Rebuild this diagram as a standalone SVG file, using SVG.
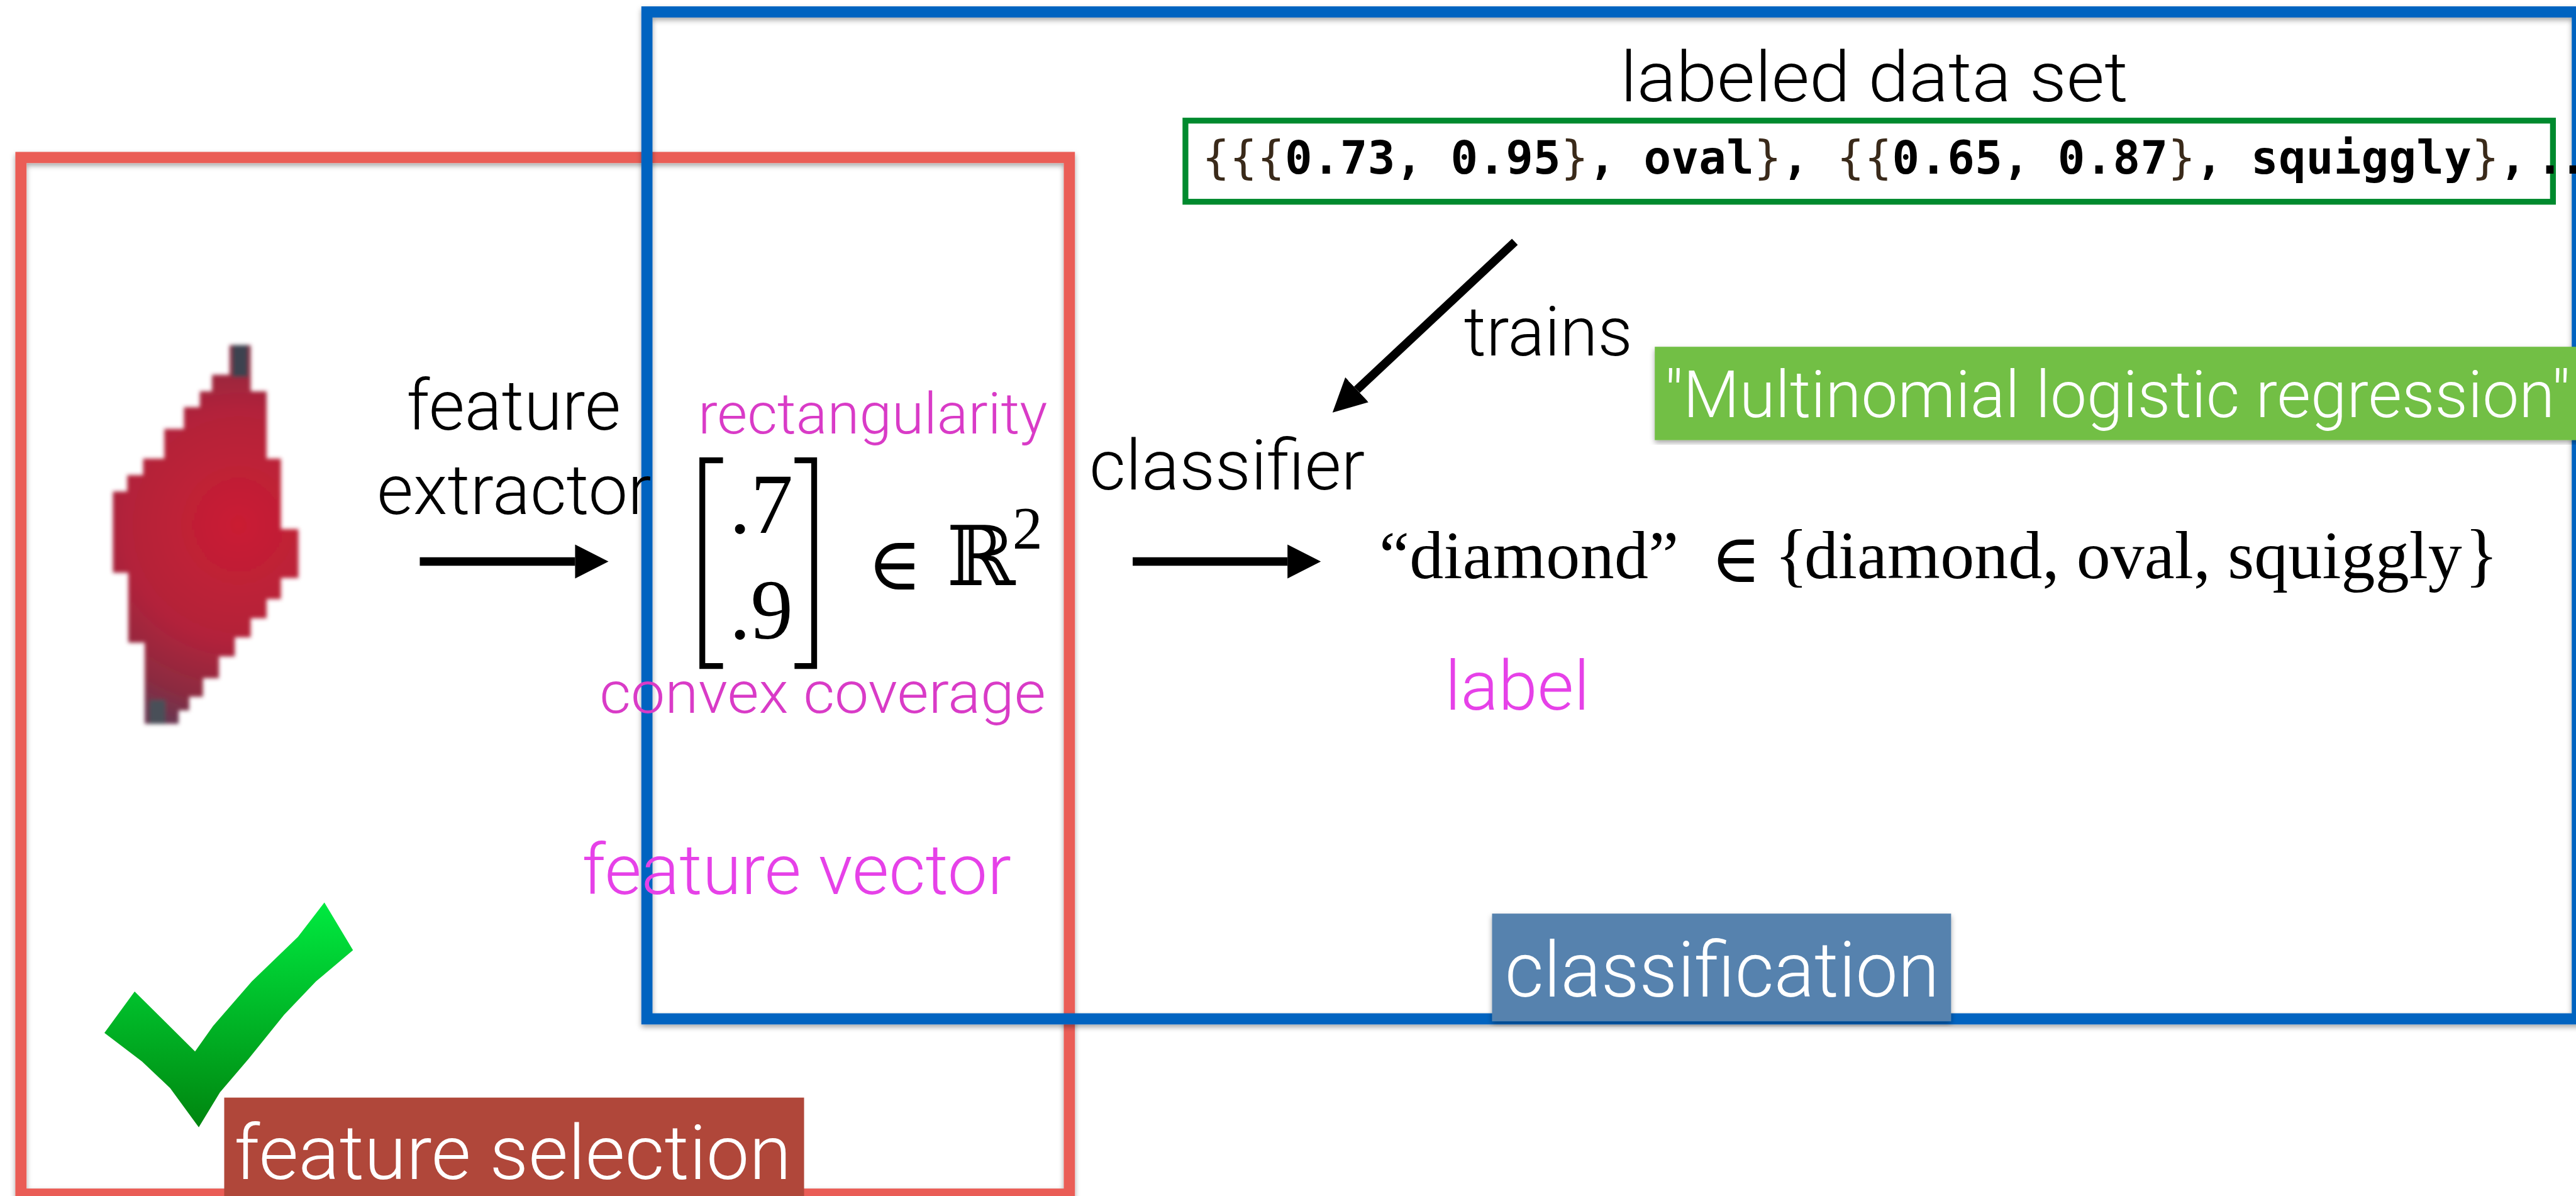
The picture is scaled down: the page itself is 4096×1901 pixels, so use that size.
<svg xmlns="http://www.w3.org/2000/svg" width="4096" height="1901" viewBox="0 0 4096 1901">
  <style>
    .sans { font-family: Roboto, "Liberation Sans", Arial, sans-serif; font-weight: 300; }
    .serif { font-family: "Liberation Serif", "Times New Roman", "DejaVu Serif", serif; }
    .math { font-family: "DejaVu Serif", "Liberation Serif", serif; }
    .mono { font-family: "DejaVu Sans Mono", "Liberation Mono", monospace; font-weight: bold; }
    .brace { font-weight: normal; fill: #3a2a1a; }
    .ink { fill: #000; }
    .white { fill: #fff; }
    .mag-dark { fill: #D93BC7; }
    .mag { fill: #E641E8; }
    .frame { fill: none; stroke-width: 21; }
    .conn { stroke: #000; stroke-width: 16; fill: none; }
  </style>
  <defs>
    <filter id="shadow" x="-5%" y="-5%" width="110%" height="110%">
      <feDropShadow dx="0" dy="5" stdDeviation="5" flood-color="#000" flood-opacity="0.35"/>
    </filter>
    <filter id="soft" x="-10%" y="-10%" width="120%" height="120%">
      <feGaussianBlur stdDeviation="4"/>
    </filter>
    <radialGradient id="gemFill" cx="450" cy="990" r="390" gradientUnits="userSpaceOnUse">
      <stop offset="0" stop-color="#CA1E33"/>
      <stop offset="0.55" stop-color="#B3223A"/>
      <stop offset="0.85" stop-color="#8C2B40"/>
      <stop offset="1" stop-color="#6A3550"/>
    </radialGradient>
    <linearGradient id="tickFill" x1="0" y1="1702" x2="0" y2="2126" gradientUnits="userSpaceOnUse">
      <stop offset="0" stop-color="#00EA40"/>
      <stop offset="1" stop-color="#00850F"/>
    </linearGradient>
    <marker id="head" markerUnits="userSpaceOnUse" markerWidth="70" markerHeight="70" viewBox="0 -35 70 70" refX="0" refY="0" orient="auto">
      <path d="M0,-32 L63,0 L0,32 Z" fill="#000"/>
    </marker>
  </defs>

  <rect width="4096" height="1901" fill="#fff"/>

  <g transform="scale(0.8428)">
    <!-- feature selection frame -->
    <g id="feature-selection-frame">
      <rect class="frame" x="39.5" y="297" width="1978" height="1955" stroke="#EA5D56" filter="url(#shadow)"/>
    </g>

    <!-- classification frame -->
    <g id="classification-frame">
      <rect class="frame" x="1220.5" y="22.5" width="3642" height="1899" stroke="#0464C0" filter="url(#shadow)"/>
    </g>

    <!-- pixelated card symbol -->
    <g id="diamond-image" filter="url(#soft)">
      <path fill="url(#gemFill)" d="M433,651 L473,651 L473,738 L503,738 L503,865 L530,865 L530,998 L563,998 L563,1090 L530,1090 L530,1130 L503,1130 L503,1166 L473,1166 L473,1202 L443,1202 L443,1238 L413,1238 L413,1279 L383,1279 L383,1314 L357,1314 L357,1340 L337,1340 L337,1365 L273,1365 L273,1212 L242,1212 L242,1080 L213,1080 L213,927 L240,927 L240,896 L270,896 L270,865 L310,865 L310,809 L347,809 L347,768 L377,768 L377,738 L400,738 L400,707 L433,707 Z"/>
      <rect x="438" y="651" width="30" height="60" fill="#3C4250"/>
      <rect x="282" y="1320" width="30" height="45" fill="#4A5058"/>
    </g>

    <!-- feature extractor label -->
    <g id="feature-extractor">
      <text class="sans ink" x="767" y="810" font-size="132" textLength="404" lengthAdjust="spacingAndGlyphs">feature</text>
      <text class="sans ink" x="711" y="969" font-size="132" textLength="518" lengthAdjust="spacingAndGlyphs">extractor</text>
    </g>

    <!-- feature vector -->
    <g id="feature-vector">
      <text class="sans mag-dark" x="1317" y="818" font-size="108" textLength="659" lengthAdjust="spacingAndGlyphs">rectangularity</text>
      <path d="M1364,868 H1325 V1256 H1364" fill="none" stroke="#000" stroke-width="11"/>
      <path d="M1499,868 H1536 V1256 H1499" fill="none" stroke="#000" stroke-width="11"/>
      <text class="serif ink" x="1436" y="1005" font-size="160" text-anchor="middle">.7</text>
      <text class="serif ink" x="1436" y="1204" font-size="160" text-anchor="middle">.9</text>
      <text class="math ink" x="1636" y="1112" font-size="140">∈</text>
      <text class="math ink" x="1786" y="1103" font-size="156">ℝ</text>
      <text class="serif ink" x="1910" y="1035" font-size="114">2</text>
      <text class="sans mag-dark" x="1131" y="1344" font-size="110" textLength="842" lengthAdjust="spacingAndGlyphs">convex coverage</text>
      <text class="sans mag" x="1098" y="1686" font-size="132" textLength="810" lengthAdjust="spacingAndGlyphs">feature vector</text>
    </g>

    <!-- training data -->
    <g id="labeled-data-set">
      <text class="sans ink" x="3057" y="191" font-size="133" textLength="958" lengthAdjust="spacingAndGlyphs">labeled data set</text>
      <rect x="2236.5" y="227.5" width="2580" height="153" fill="none" stroke="#008A2E" stroke-width="11"/>
      <text class="mono ink" x="2268" y="327" font-size="86" textLength="2499"><tspan class="brace">{{{</tspan>0.73, 0.95<tspan class="brace">}</tspan>, oval<tspan class="brace">}</tspan>, <tspan class="brace">{{</tspan>0.65, 0.87<tspan class="brace">}</tspan>, squiggly<tspan class="brace">}</tspan>,</text>
      <text class="mono ink" x="4785" y="327" font-size="86" letter-spacing="-8">..</text>
    </g>

    <!-- classifier -->
    <g id="classifier">
      <text class="sans ink" x="2762" y="670" font-size="130" textLength="318" lengthAdjust="spacingAndGlyphs">trains</text>
      <text class="sans ink" x="2055" y="923" font-size="132" textLength="520" lengthAdjust="spacingAndGlyphs">classifier</text>
    </g>

    <g id="model-tag">
      <rect x="3122" y="654" width="1760" height="176" fill="#72BF44" filter="url(#shadow)"/>
      <text class="sans white" x="3140" y="787" font-size="123" textLength="1709" lengthAdjust="spacingAndGlyphs">"Multinomial logistic regression"</text>
    </g>

    <!-- predicted label -->
    <g id="prediction">
      <text class="serif ink" x="2602" y="1091" font-size="128" textLength="565">“diamond”</text>
      <text class="math ink" x="3228" y="1097" font-size="128">∈</text>
      <text class="serif ink" y="1091" font-size="132">
        <tspan x="3348">{</tspan>
        <tspan x="3404" font-size="128" textLength="1241">diamond, oval, squiggly</tspan>
        <tspan x="4650">}</tspan>
      </text>
      <text class="sans mag" x="2726" y="1339" font-size="130" textLength="273" lengthAdjust="spacingAndGlyphs">label</text>
    </g>

    <!-- check mark -->
    <g id="checkmark">
      <path fill="url(#tickFill)" d="M612,1702 L666,1792 L596,1851 L536,1914 L469,1997 L415,2060 L375,2126 L321,2052 L268,2002 L197,1948 L254,1870 L368,1983 L402,1935 L475,1851 L562,1767 Z"/>
    </g>

    <!-- section tags -->
    <g id="feature-selection-tag">
      <rect x="423" y="2070" width="1094" height="200" fill="#B0473A"/>
      <text class="sans white" x="442" y="2224" font-size="144" textLength="1051" lengthAdjust="spacingAndGlyphs">feature selection</text>
    </g>
    <g id="classification-tag">
      <rect x="2815" y="1723" width="866" height="203" fill="#5782AE" filter="url(#shadow)"/>
      <text class="sans white" x="2839" y="1879" font-size="145" textLength="820" lengthAdjust="spacingAndGlyphs">classification</text>
    </g>

    <!-- connectors -->
    <g id="connectors">
      <line class="conn" x1="792" y1="1059" x2="1085" y2="1059" marker-end="url(#head)"/>
      <line class="conn" x1="2137" y1="1059" x2="2429" y2="1059" marker-end="url(#head)"/>
      <line class="conn" x1="2858" y1="456" x2="2560" y2="735" marker-end="url(#head)"/>
    </g>
  </g>
</svg>
